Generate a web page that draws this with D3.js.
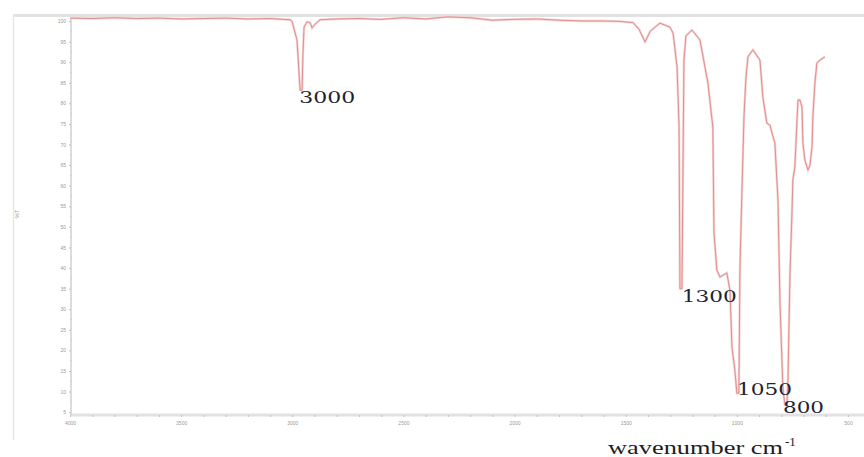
<!DOCTYPE html>
<html>
<head>
<meta charset="utf-8">
<script src="https://cdn.jsdelivr.net/npm/d3@7"></script>
<style>
  body { margin: 0; background: #fff; }
  .tick text { fill: #9a9a9a; font-family: Arial, sans-serif; }
</style>
</head>
<body>
<div id="chart"></div>
<script>
// spectrum: wavenumber (cm-1) and transmittance (%)
var wavenumber = [4000, 3900, 3800, 3700, 3600, 3500, 3400, 3300, 3200, 3100, 3010, 3001,
    2979, 2974, 2965, 2956, 2952, 2947, 2934, 2920, 2911, 2898, 2875, 2800, 2700, 2600,
    2500, 2400, 2300, 2200, 2100, 2000, 1900, 1800, 1700, 1600, 1526, 1467, 1440, 1413,
    1390, 1346, 1301, 1287, 1269, 1260, 1256, 1247, 1238, 1229, 1202, 1166, 1130, 1108,
    1103, 1090, 1076, 1045, 1031, 1022, 1009, 1000, 991, 986, 977, 968, 959, 950, 928,
    896, 883, 865, 851, 842, 829, 815, 806, 793, 784, 775, 770, 761, 752, 748, 739, 730,
    725, 716, 707, 703, 694, 680, 671, 662, 658, 649, 640, 626, 604];
var transmittance = [100.7, 100.6, 100.8, 100.6, 100.7, 100.5, 100.6, 100.7, 100.5, 100.6, 100.3, 99.9,
    95.4, 91.3, 83.2, 83.2, 92.2, 98.5, 99.8, 99.6, 98.3, 99.2, 100.3, 100.5, 100.6, 100.4,
    100.8, 100.5, 101.0, 100.8, 100.2, 100.4, 100.5, 100.2, 100.0, 100.0, 99.9, 99.6, 98.0, 94.9,
    97.5, 99.5, 98.5, 97.1, 88.8, 74.2, 35.0, 35.0, 90.5, 96.4, 97.8, 95.4, 84.9, 74.2,
    48.7, 39.5, 37.8, 38.8, 34.6, 20.8, 15.2, 9.6, 9.6, 40.2, 58.9, 76.7, 86.4, 91.3, 93.0,
    90.5, 81.5, 75.2, 74.7, 72.8, 70.4, 56.5, 31.5, 11.1, 6.7, 6.7, 12.8, 38.8, 53.4, 61.4, 64.5, 75.2,
    80.8, 80.8, 79.1, 70.4, 66.2, 63.8, 65.0, 69.4, 76.7, 84.9, 89.8, 90.5, 91.3];

// tick labels
var xTickLabels = [4000, 3500, 3000, 2500, 2000, 1500, 1000, 500];
var yTickLabels = [100, 95, 90, 85, 80, 75, 70, 65, 60, 55, 50, 45, 40, 35, 30, 25, 20, 15, 10, 5];

// annotated peaks
var peakNames = ["3000", "1300", "1050", "800"];
var peakWave = [2960, 1252, 995, 779];
var peakT = [83.2, 35.0, 9.6, 6.7];

var width = 864, height = 457;

var svg = d3.select("#chart")
    .append("svg")
    .attr("width", width)
    .attr("height", height);

var x = d3.scaleLinear()
    .domain([4000, 500])
    .range([70, 848]);

var y = d3.scaleLinear()
    .domain([4.3, 100])
    .range([415, 21]);

// outer frame bits (grey band on top, thin line on the left)
svg.append("rect")
    .attr("x", 13).attr("y", 14)
    .attr("width", width - 13).attr("height", 3)
    .attr("fill", "#e2e2e2");
svg.append("line")
    .attr("x1", 13.5).attr("x2", 13.5)
    .attr("y1", 14).attr("y2", 440)
    .attr("stroke", "#e6e6e6").attr("stroke-width", 1.5);

// x axis
svg.append("line")
    .attr("x1", 70).attr("x2", width)
    .attr("y1", 415).attr("y2", 415)
    .attr("stroke", "#e2e2e2").attr("stroke-width", 3);

var xAxis = svg.append("g")
    .attr("transform", "translate(0,415)")
    .call(d3.axisBottom(x)
        .tickValues(d3.range(4000, 499, -100))
        .tickSize(2)
        .tickPadding(4)
        .tickFormat(function (d) { return xTickLabels.indexOf(d) >= 0 ? d : ""; }));
xAxis.select(".domain").remove();
xAxis.selectAll(".tick line").attr("stroke", "#c4c4c4");
xAxis.selectAll(".tick text").style("font-size", "5px");

// y axis
var yAxis = svg.append("g")
    .attr("transform", "translate(71,0)")
    .call(d3.axisLeft(y)
        .tickValues(yTickLabels)
        .tickSize(2)
        .tickPadding(3));
yAxis.select(".domain")
    .attr("stroke", "#d0d0d0")
    .attr("stroke-width", 1.5)
    .attr("d", "M0,17V415");
yAxis.selectAll(".tick line").attr("stroke", "#c4c4c4");
yAxis.selectAll(".tick text").style("font-size", "5px");

// minor ticks on y axis
svg.append("g")
    .selectAll("line")
    .data(d3.range(5, 100, 5).map(function (d) { return d + 2.5; }))
    .enter()
    .append("line")
    .attr("x1", 70).attr("x2", 72)
    .attr("y1", function (d) { return y(d); })
    .attr("y2", function (d) { return y(d); })
    .attr("stroke", "#d0d0d0");

// small %T label on the left
svg.append("text")
    .attr("transform", "translate(19,214) rotate(-90)")
    .attr("text-anchor", "middle")
    .style("font-family", "Arial, sans-serif")
    .style("font-size", "6px")
    .attr("fill", "#9a9a9a")
    .text("%T");

// the spectrum
var points = wavenumber.map(function (w, i) { return [w, transmittance[i]]; });
var line = d3.line()
    .x(function (d) { return x(d[0]); })
    .y(function (d) { return y(d[1]); });

svg.append("path")
    .datum(points)
    .attr("d", line)
    .attr("fill", "none")
    .attr("stroke", "#f6d3d3")
    .attr("stroke-width", 2.4);
svg.append("path")
    .datum(points)
    .attr("d", line)
    .attr("fill", "none")
    .attr("stroke", "#dc8787")
    .attr("stroke-width", 0.9);

// peak labels, offset from the bottom of each band
var labelDx = [-2, 1, -1, -3];
var labelDy = [13, 13.5, 2, 7.5];
var labelLen = [56, 55, 55, 41];
peakNames.forEach(function (name, i) {
    svg.append("text")
        .attr("x", x(peakWave[i]) + labelDx[i])
        .attr("y", y(peakT[i]) + labelDy[i])
        .attr("textLength", labelLen[i])
        .attr("lengthAdjust", "spacingAndGlyphs")
        .style("font-family", "'DejaVu Serif', serif")
        .style("font-size", "16px")
        .attr("fill", "#1d2233")
        .text(name);
});

// axis title
svg.append("text")
    .attr("x", 608)
    .attr("y", 454)
    .attr("textLength", 175)
    .attr("lengthAdjust", "spacingAndGlyphs")
    .style("font-family", "'Liberation Serif', serif")
    .style("font-size", "19px")
    .attr("fill", "#1d1d1d")
    .text("wavenumber cm");
svg.append("text")
    .attr("x", 785)
    .attr("y", 446)
    .style("font-family", "'Liberation Serif', serif")
    .style("font-size", "13px")
    .attr("fill", "#1d1d1d")
    .text("-1");
</script>
</body>
</html>
